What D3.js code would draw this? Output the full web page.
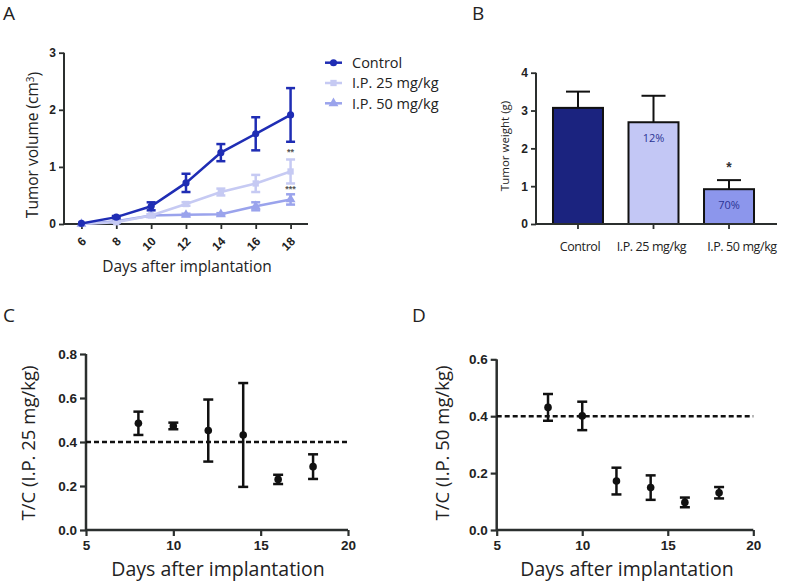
<!DOCTYPE html>
<html>
<head>
<meta charset="utf-8">
<script src="https://cdn.jsdelivr.net/npm/d3@7"></script>
<style>
  body { margin: 0; background: #fff; }
  .tick text { font-family: "Liberation Sans", Arial, sans-serif; font-weight: bold; fill: #222; }
  .title { font-family: "Open Sans", sans-serif; fill: #222; }
</style>
</head>
<body>
<div id="chart"></div>
<script>
// panel A - tumor volume over time
var days = [6, 8, 10, 12, 14, 16, 18];
var controlMean = [0.01, 0.12, 0.31, 0.72, 1.25, 1.58, 1.91];
var controlErr = [0.01, 0.02, 0.07, 0.16, 0.15, 0.29, 0.47];
var ip25Mean = [0.00, 0.03, 0.15, 0.35, 0.56, 0.71, 0.92];
var ip25Err = [0.00, 0.01, 0.02, 0.03, 0.06, 0.15, 0.21];
var ip50Mean = [0.00, 0.05, 0.15, 0.16, 0.17, 0.31, 0.43];
var ip50Err = [0.00, 0.01, 0.02, 0.02, 0.02, 0.07, 0.09];
var volumeTicks = [0, 1, 2, 3];

// panel B - tumor weight
var groups = ["Control", "I.P. 25 mg/kg", "I.P. 50 mg/kg"];
var weightMean = [3.07, 2.69, 0.92];
var weightErr = [0.43, 0.70, 0.24];
var inhibition = ["", "12%", "70%"];
var weightTicks = [0, 1, 2, 3, 4];

// panels C and D - T/C ratio
var tcDays = [8, 10, 12, 14, 16, 18];
var tc25Mean = [0.485, 0.473, 0.452, 0.432, 0.230, 0.288];
var tc25Err = [0.053, 0.015, 0.141, 0.236, 0.021, 0.056];
var tc50Mean = [0.431, 0.401, 0.172, 0.149, 0.097, 0.131];
var tc50Err = [0.047, 0.050, 0.047, 0.043, 0.017, 0.020];
var tcXTicks = [5, 10, 15, 20];

var cControl = "#1f2db4", cIp25 = "#c6caf3", cIp50 = "#9aa3ec";
var barColors = ["#1b237f", "#c3c7f5", "#8c96ec"];
var axisColor = "#2b2f2e";

var svg = d3.select("#chart").append("svg")
  .attr("width", 787).attr("height", 584)
  .style("background-color", "#fff");

function panelLetter(txt, x, y) {
  svg.append("text").attr("class", "title")
    .attr("x", x).attr("y", y)
    .style("font-size", "19px")
    .text(txt);
}

function styleAxis(g, w, fs) {
  g.selectAll(".domain").remove();
  g.selectAll(".tick line").attr("stroke", axisColor).attr("stroke-width", w);
  g.selectAll(".tick text").style("font-size", fs + "px");
}

// ---------- panel A ----------
panelLetter("A", 3, 20);
var xA = d3.scaleLinear().domain([5, 19]).range([64, 308]);
var yA = d3.scaleLinear().domain([0, 3]).range([224, 52.7]);

var gxA = svg.append("g").attr("transform", "translate(0,224)")
  .call(d3.axisBottom(xA).tickValues(days).tickSize(5).tickFormat(d3.format("d")));
styleAxis(gxA, 1.8, 12);
gxA.selectAll(".tick text")
  .attr("text-anchor", "end")
  .attr("transform", "translate(2,15) rotate(-45)")
  .attr("y", 0).attr("x", 0).attr("dy", "0.35em");

var gyA = svg.append("g").attr("transform", "translate(64,0)")
  .call(d3.axisLeft(yA).tickValues(volumeTicks).tickSize(5).tickFormat(d3.format("d")));
styleAxis(gyA, 1.8, 12);

svg.append("line").attr("x1", 64).attr("x2", 64).attr("y1", yA(3)).attr("y2", yA(0))
  .attr("stroke", axisColor).attr("stroke-width", 2);
svg.append("line").attr("x1", 64).attr("x2", xA(19)).attr("y1", yA(0)).attr("y2", yA(0))
  .attr("stroke", axisColor).attr("stroke-width", 2);

svg.append("text").attr("class", "title")
  .attr("x", 187).attr("y", 272)
  .attr("text-anchor", "middle").style("font-size", "15.5px")
  .text("Days after implantation");

var yTitleA = svg.append("text").attr("class", "title")
  .attr("transform", "translate(38,145) rotate(-90)")
  .attr("text-anchor", "middle").style("font-size", "15.5px");
yTitleA.append("tspan").text("Tumor volume (cm");
yTitleA.append("tspan").attr("dy", "-0.45em").style("font-size", "10px").text("3");
yTitleA.append("tspan").attr("dy", "0.45em").text(")");

var seriesA = [
  { name: "I.P. 50 mg/kg", mean: ip50Mean, err: ip50Err, color: cIp50, shape: d3.symbolTriangle, size: 42 },
  { name: "I.P. 25 mg/kg", mean: ip25Mean, err: ip25Err, color: cIp25, shape: d3.symbolSquare, size: 40 },
  { name: "Control", mean: controlMean, err: controlErr, color: cControl, shape: d3.symbolCircle, size: 40 }
];

var lineA = d3.line().x(function (d) { return xA(d[0]); }).y(function (d) { return yA(d[1]); });

seriesA.forEach(function (s) {
  var pts = days.map(function (d, i) { return [d, s.mean[i], s.err[i]]; });
  var g = svg.append("g");
  g.append("path").datum(pts).attr("d", lineA)
    .attr("fill", "none").attr("stroke", s.color).attr("stroke-width", 2.5);
  pts.forEach(function (p) {
    if (p[2] <= 0.015) return;
    var x = xA(p[0]), y0 = yA(p[1] - p[2]), y1 = yA(p[1] + p[2]);
    g.append("line").attr("x1", x).attr("x2", x).attr("y1", y0).attr("y2", y1)
      .attr("stroke", s.color).attr("stroke-width", 2.5);
    [y0, y1].forEach(function (yy) {
      g.append("line").attr("x1", x - 4.5).attr("x2", x + 4.5).attr("y1", yy).attr("y2", yy)
        .attr("stroke", s.color).attr("stroke-width", 2.5);
    });
  });
  g.selectAll(".pt").data(pts).enter().append("path")
    .attr("transform", function (d) { return "translate(" + xA(d[0]) + "," + yA(d[1]) + ")"; })
    .attr("d", d3.symbol().type(s.shape).size(s.size))
    .attr("fill", s.color);
});

// significance marks
svg.append("text").attr("x", xA(18)).attr("y", 155).attr("text-anchor", "middle")
  .style("font-family", "Liberation Sans, Arial").style("font-size", "9px").style("font-weight", "bold")
  .attr("fill", "#555").text("**");
svg.append("text").attr("x", xA(18)).attr("y", 192).attr("text-anchor", "middle")
  .style("font-family", "Liberation Sans, Arial").style("font-size", "9px").style("font-weight", "bold")
  .attr("fill", "#555").text("***");

// legend
var legend = svg.append("g");
seriesA.slice().reverse().forEach(function (s, i) {
  var y = 62.7 + i * 20.3;
  legend.append("line").attr("x1", 325).attr("x2", 342).attr("y1", y).attr("y2", y)
    .attr("stroke", s.color).attr("stroke-width", 2.5);
  legend.append("path").attr("transform", "translate(333.5," + y + ")")
    .attr("d", d3.symbol().type(s.shape).size(s.size)).attr("fill", s.color);
  legend.append("text").attr("class", "title")
    .attr("x", 352).attr("y", y).attr("dy", "0.36em")
    .style("font-size", "14.5px").text(s.name);
});

// ---------- panel B ----------
panelLetter("B", 472, 20);
var xB = d3.scaleBand().domain(groups).range([536, 771]).paddingInner(0.338).paddingOuter(0.225);
var yB = d3.scaleLinear().domain([0, 4]).range([224, 72.7]);

var gxB = svg.append("g").attr("transform", "translate(0,224)")
  .call(d3.axisBottom(xB).tickSize(5));
styleAxis(gxB, 1.8, 12.5);
gxB.selectAll(".tick text").attr("class", "title")
  .style("font-weight", "normal").style("font-family", "Open Sans, sans-serif")
  .style("letter-spacing", "-0.4px")
  .attr("y", 18)
  .attr("dx", function (d, i) { return i === 2 ? 13 : (i === 1 ? -2 : 2); });

var gyB = svg.append("g").attr("transform", "translate(536,0)")
  .call(d3.axisLeft(yB).tickValues(weightTicks).tickSize(5).tickFormat(d3.format("d")));
styleAxis(gyB, 1.8, 12);

svg.append("text").attr("class", "title")
  .attr("transform", "translate(509,146) rotate(-90)")
  .attr("text-anchor", "middle").style("font-size", "11.5px")
  .text("Tumor weight (g)");

var bars = svg.append("g");
groups.forEach(function (g, i) {
  var x = xB(g), w = xB.bandwidth(), cx = x + w / 2;
  var top = yB(weightMean[i]), errTop = yB(weightMean[i] + weightErr[i]);
  bars.append("line").attr("x1", cx).attr("x2", cx).attr("y1", top).attr("y2", errTop)
    .attr("stroke", "#111").attr("stroke-width", 2);
  bars.append("line").attr("x1", cx - 12).attr("x2", cx + 12).attr("y1", errTop).attr("y2", errTop)
    .attr("stroke", "#111").attr("stroke-width", 2);
  bars.append("rect").attr("x", x).attr("y", top)
    .attr("width", w).attr("height", yB(0) - top)
    .attr("fill", barColors[i]).attr("stroke", "#111").attr("stroke-width", 2);
  if (inhibition[i]) {
    bars.append("text").attr("x", cx).attr("y", top + 20).attr("text-anchor", "middle")
      .style("font-family", "Open Sans, sans-serif").style("font-size", "11px")
      .attr("fill", "#2b3494").text(inhibition[i]);
  }
});
svg.append("text").attr("x", xB(groups[2]) + xB.bandwidth() / 2).attr("y", yB(weightMean[2] + weightErr[2]) - 8)
  .attr("text-anchor", "middle").style("font-family", "Liberation Sans, Arial")
  .style("font-size", "14px").style("font-weight", "bold").attr("fill", "#333").text("*");

svg.append("line").attr("x1", 536).attr("x2", 536).attr("y1", yB(4)).attr("y2", yB(0))
  .attr("stroke", axisColor).attr("stroke-width", 2);
svg.append("line").attr("x1", 536).attr("x2", 777).attr("y1", yB(0)).attr("y2", yB(0))
  .attr("stroke", axisColor).attr("stroke-width", 2);

// ---------- panels C and D ----------
function tcPanel(letter, lx, x0, x1, yMax, yTop, means, errs, yTitle, titleX, xTitleX) {
  panelLetter(letter, lx, 322);
  var x = d3.scaleLinear().domain([5, 20]).range([x0, x1]);
  var y = d3.scaleLinear().domain([0, yMax]).range([530, yTop]);
  var yTicks = d3.range(0, yMax + 0.001, 0.2);

  var gx = svg.append("g").attr("transform", "translate(0,530)")
    .call(d3.axisBottom(x).tickValues(tcXTicks).tickSize(6).tickFormat(d3.format("d")));
  styleAxis(gx, 2.2, 13.5);
  gx.selectAll(".tick text").attr("y", 10);

  var gy = svg.append("g").attr("transform", "translate(" + x0 + ",0)")
    .call(d3.axisLeft(y).tickValues(yTicks).tickSize(6).tickFormat(d3.format(".1f")));
  styleAxis(gy, 2.2, 13.5);

  svg.append("line").attr("x1", x0).attr("x2", x0).attr("y1", y(yMax)).attr("y2", y(0))
    .attr("stroke", axisColor).attr("stroke-width", 2.5);
  svg.append("line").attr("x1", x0).attr("x2", x1).attr("y1", y(0)).attr("y2", y(0))
    .attr("stroke", axisColor).attr("stroke-width", 2.5);

  // reference line at T/C = 0.4
  svg.append("line").attr("x1", x0).attr("x2", x1).attr("y1", y(0.4)).attr("y2", y(0.4))
    .attr("stroke", "#111").attr("stroke-width", 2.5).attr("stroke-dasharray", "5,3");

  var g = svg.append("g");
  tcDays.forEach(function (d, i) {
    var cx = x(d), lo = y(means[i] - errs[i]), hi = y(means[i] + errs[i]);
    g.append("line").attr("x1", cx).attr("x2", cx).attr("y1", lo).attr("y2", hi)
      .attr("stroke", "#111").attr("stroke-width", 2.5);
    [lo, hi].forEach(function (yy) {
      g.append("line").attr("x1", cx - 5).attr("x2", cx + 5).attr("y1", yy).attr("y2", yy)
        .attr("stroke", "#111").attr("stroke-width", 2.5);
    });
    g.append("circle").attr("cx", cx).attr("cy", y(means[i])).attr("r", 3.8).attr("fill", "#111");
  });

  svg.append("text").attr("class", "title")
    .attr("x", xTitleX).attr("y", 576)
    .attr("text-anchor", "middle").style("font-size", "19.5px")
    .text("Days after implantation");
  svg.append("text").attr("class", "title")
    .attr("transform", "translate(" + titleX + ",443) rotate(-90)")
    .attr("text-anchor", "middle").style("font-size", "18.5px")
    .text(yTitle);
}

tcPanel("C", 3, 86, 348, 0.8, 354, tc25Mean, tc25Err, "T/C (I.P. 25 mg/kg)", 35, 218);
tcPanel("D", 412, 496.7, 753.3, 0.6, 359.3, tc50Mean, tc50Err, "T/C (I.P. 50 mg/kg)", 449, 627);
</script>
</body>
</html>
